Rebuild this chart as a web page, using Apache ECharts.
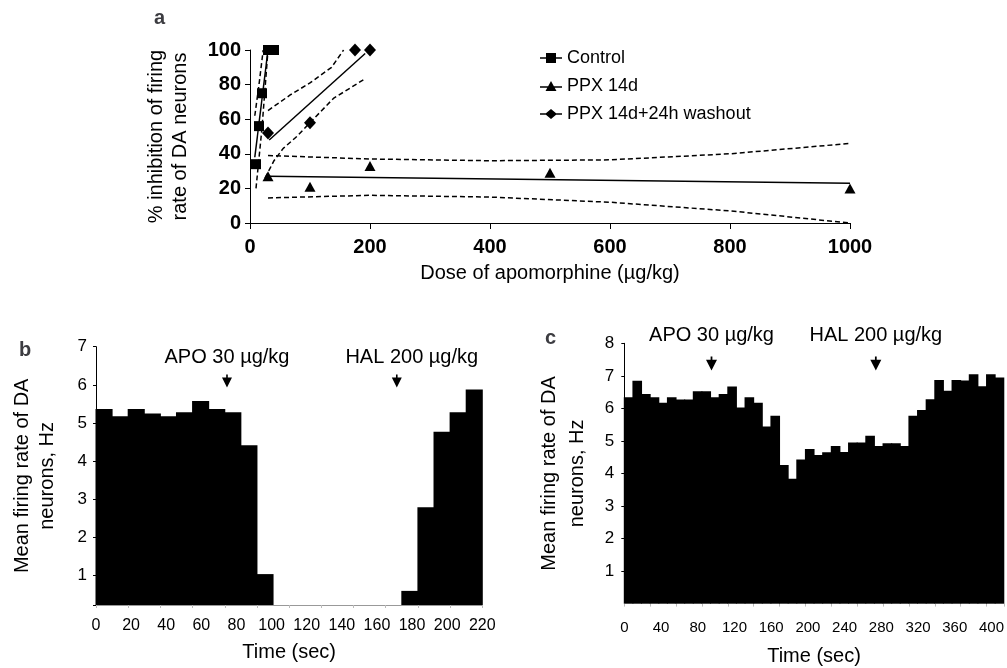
<!DOCTYPE html>
<html><head><meta charset="utf-8">
<script src="https://cdn.jsdelivr.net/npm/echarts@6/dist/echarts.min.js"></script>
<style>html,body{margin:0;padding:0;background:#fff}#c{width:1007px;height:668px}</style>
</head><body><div id="c"></div>
<script>
// ---------- Panel a ----------
const controlDose = [10, 15, 20, 30, 40];
const controlInhib = [34, 56, 75, 100, 100];
const ppxDose = [30, 100, 200, 500, 1000];
const ppxInhib = [27, 21, 33, 29, 20];
const washDose = [30, 100, 175, 200];
const washInhib = [52, 58, 100, 100];
// regression lines and confidence bands
const controlFit = [[8, 38], [30, 100]];
const controlUpper = [[8, 62], [15, 80], [22, 100]];
const controlLower = [[10, 20], [20, 55], [30, 100]];
const washFit = [[32, 48], [192, 98]];
const washUpper = [[30, 65], [67, 74], [100, 81], [136, 90], [156, 100]];
const washLower = [[25, 26], [40, 36], [55, 43], [78, 50], [100, 58], [139, 72], [190, 83]];
const ppxFit = [[30, 27], [1000, 23]];
const ppxUpper = [[30, 39], [200, 37], [400, 36], [600, 36.5], [800, 40], [1000, 46]];
const ppxLower = [[30, 14.5], [200, 16], [400, 15], [600, 12], [800, 7], [1000, 0]];
const legendNames = ['Control', 'PPX 14d', 'PPX 14d+24h washout'];

// ---------- Panel b ----------
const binsB = [5.37, 5.18, 5.37, 5.25, 5.18, 5.28, 5.58, 5.37, 5.28, 4.42, 1.04,
  null, null, null, null, null, null, null, null,
  0.6, 2.79, 4.77, 5.28, 5.88];
const yTicksB = [1, 2, 3, 4, 5, 6, 7];
const annotText = ['APO 30 µg/kg', 'HAL 200 µg/kg'];
const annotTimeB = [74.6, 171.3];

// ---------- Panel c ----------
const binsC = [6.34, 6.85, 6.44, 6.34, 6.17, 6.34, 6.27, 6.27, 6.53, 6.53,
  6.34, 6.44, 6.67, 6.03, 6.34, 6.17, 5.44, 5.77, 4.26, 3.84,
  4.43, 4.75, 4.57, 4.65, 4.84, 4.66, 4.95, 4.95, 5.16, 4.84,
  4.93, 4.93, 4.84, 5.77, 5.95, 6.28, 6.87, 6.54, 6.87, 6.86,
  7.05, 6.68, 7.05, 6.95];
const annotTimeC = [95, 274];

const FONT = 'Liberation Sans, Arial, sans-serif';
const arrowPath = 'path://M4.2,0 L5.8,0 L5.8,3 L10,3 L5,13 L0,3 L4.2,3 Z';

function lineSeries(data, dashed) {
  return {
    type: 'line', xAxisIndex: 0, yAxisIndex: 0, data: data,
    symbol: 'none', silent: true, z: 2,
    lineStyle: { color: '#000', width: 1.5, type: dashed ? [5, 3] : 'solid' }
  };
}
const solidBlack = { color: '#000', opacity: 1 };

// histogram bars drawn through the category axis scale, with a 1px overlap to avoid seams
function histItem(params, api) {
  const v = api.value(1);
  if (v === null || isNaN(v)) return null;
  const top = api.coord([api.value(0), v]);
  const bw = api.size([1, 0])[0];
  const cs = params.coordSys;
  const base = cs.y + cs.height;
  return {
    type: 'rect',
    shape: { x: top[0] - bw / 2 - 0.5, y: top[1], width: bw + 1, height: base - top[1] },
    style: { fill: '#000' }
  };
}

const chart = echarts.init(document.getElementById('c'), null, { renderer: 'canvas' });
chart.setOption({
  animation: false,
  backgroundColor: '#fff',
  textStyle: { fontFamily: FONT, color: '#000' },
  title: [
    { text: 'a', left: 149, top: 3, textStyle: { fontSize: 20, fontWeight: 'bold', fontFamily: FONT } },
    { text: 'b', left: 14, top: 335, textStyle: { fontSize: 20, fontWeight: 'bold', fontFamily: FONT } },
    { text: 'c', left: 540, top: 323, textStyle: { fontSize: 20, fontWeight: 'bold', fontFamily: FONT } }
  ],
  legend: {
    orient: 'vertical', left: 535, top: 44, itemWidth: 22, itemHeight: 10, itemGap: 10,
    textStyle: { fontSize: 18, color: '#000', fontFamily: FONT },
    data: [
      { name: legendNames[0], icon: 'path://M0,4.3 L22,4.3 L22,5.7 L0,5.7 Z M6,0 L16,0 L16,10 L6,10 Z' },
      { name: legendNames[1], icon: 'path://M0,5.3 L22,5.3 L22,6.7 L0,6.7 Z M11,0 L16.5,10 L5.5,10 Z' },
      { name: legendNames[2], icon: 'path://M0,4.3 L22,4.3 L22,5.7 L0,5.7 Z M11,0 L17,5 L11,10 L5,5 Z' }
    ]
  },
  grid: [
    { left: 250, top: 50, width: 600, height: 173 },
    { left: 96, top: 346.7, width: 386.3, height: 258.3 },
    { left: 624.3, top: 343.3, width: 380.7, height: 260.3 }
  ],
  xAxis: [
    { type: 'value', gridIndex: 0, min: 0, max: 1000, interval: 200, position: 'bottom',
      name: 'Dose of apomorphine (µg/kg)', nameLocation: 'middle', nameGap: 40,
      nameTextStyle: { fontSize: 20, color: '#000' },
      axisLine: { lineStyle: { color: '#000', width: 1 } },
      axisTick: { length: 6, lineStyle: { color: '#000' } },
      axisLabel: { fontSize: 20, fontWeight: 'bold', color: '#000', margin: 14, formatter: v => String(v) },
      splitLine: { show: false } },
    { type: 'category', gridIndex: 1, data: binsB.map((_, i) => String(i)), position: 'bottom',
      boundaryGap: true,
      axisLine: { lineStyle: { color: '#999', width: 1 } },
      axisTick: { show: true, length: 3, lineStyle: { color: '#bbb' } },
      axisLabel: { show: false }, splitLine: { show: false }, splitArea: { show: false } },
    { type: 'value', gridIndex: 1, min: 0, max: 220, interval: 20, position: 'bottom',
      name: 'Time (sec)', nameLocation: 'middle', nameGap: 37,
      nameTextStyle: { fontSize: 20, color: '#000' },
      axisLine: { show: false }, axisTick: { show: false },
      axisLabel: { fontSize: 16, color: '#000', margin: 13 },
      splitLine: { show: false } },
    { type: 'category', gridIndex: 2, data: binsC.map((_, i) => String(i)), position: 'bottom',
      boundaryGap: true,
      axisLine: { lineStyle: { color: '#999', width: 1 } },
      axisTick: { show: true, length: 3, lineStyle: { color: '#bbb' } },
      axisLabel: { show: false }, splitLine: { show: false }, splitArea: { show: false } },
    { type: 'value', gridIndex: 2, min: 0, max: 413.4, interval: 40, position: 'bottom',
      name: 'Time (sec)', nameLocation: 'middle', nameGap: 43,
      nameTextStyle: { fontSize: 20, color: '#000' },
      axisLine: { show: false }, axisTick: { show: false },
      axisLabel: { fontSize: 15, color: '#000', margin: 17, showMaxLabel: false },
      splitLine: { show: false } }
  ],
  yAxis: [
    { type: 'value', gridIndex: 0, min: 0, max: 100, interval: 20,
      name: '% inhibition of firing\nrate of DA neurons', nameLocation: 'middle', nameGap: 58,
      nameTextStyle: { fontSize: 20, color: '#000', lineHeight: 24 },
      axisLine: { show: true, lineStyle: { color: '#000', width: 1 } },
      axisTick: { show: true, length: 5, lineStyle: { color: '#000' } },
      axisLabel: { fontSize: 20, fontWeight: 'bold', color: '#000', margin: 9 },
      splitLine: { show: false } },
    { type: 'value', gridIndex: 1, min: 0.23, max: 7,
      name: 'Mean firing rate of DA\nneurons, Hz', nameLocation: 'middle', nameGap: 36,
      nameTextStyle: { fontSize: 20, color: '#000', lineHeight: 25 },
      axisLine: { show: true, lineStyle: { color: '#000', width: 1 } },
      axisTick: { show: true, length: 3, customValues: [0.23].concat(yTicksB), lineStyle: { color: '#000' } },
      axisLabel: { fontSize: 17, color: '#000', margin: 9, customValues: yTicksB },
      splitLine: { show: false } },
    { type: 'value', gridIndex: 2, min: 0, max: 8, interval: 1,
      name: 'Mean firing rate of DA\nneurons, Hz', nameLocation: 'middle', nameGap: 33,
      nameTextStyle: { fontSize: 20, color: '#000', lineHeight: 28 },
      axisLine: { show: true, lineStyle: { color: '#000', width: 1 } },
      axisTick: { show: true, length: 3, lineStyle: { color: '#000' } },
      axisLabel: { fontSize: 17, color: '#000', margin: 10, showMinLabel: false },
      splitLine: { show: false } }
  ],
  series: [
    lineSeries(controlFit, false), lineSeries(controlUpper, true), lineSeries(controlLower, true),
    lineSeries(washFit, false), lineSeries(washUpper, true), lineSeries(washLower, true),
    lineSeries(ppxFit, false), lineSeries(ppxUpper, true), lineSeries(ppxLower, true),
    { name: legendNames[0], type: 'scatter', xAxisIndex: 0, yAxisIndex: 0, z: 4,
      symbol: 'rect', symbolSize: 10, itemStyle: solidBlack,
      data: controlDose.map((d, i) => [d, controlInhib[i]]) },
    { name: legendNames[1], type: 'scatter', xAxisIndex: 0, yAxisIndex: 0, z: 4,
      symbol: 'triangle', symbolSize: [11, 10], itemStyle: solidBlack,
      data: ppxDose.map((d, i) => [d, ppxInhib[i]]) },
    { name: legendNames[2], type: 'scatter', xAxisIndex: 0, yAxisIndex: 0, z: 4,
      symbol: 'diamond', symbolSize: [12, 13], itemStyle: solidBlack,
      data: washDose.map((d, i) => [d, washInhib[i]]) },
    { type: 'custom', xAxisIndex: 1, yAxisIndex: 1, silent: true, renderItem: histItem,
      encode: { x: 0, y: 1 },
      data: binsB.map((v, i) => [i, v === null ? NaN : v]) },
    { type: 'scatter', xAxisIndex: 2, yAxisIndex: 1, symbol: arrowPath, symbolSize: [10, 13],
      silent: true, itemStyle: solidBlack, z: 5,
      label: { show: true, position: 'top', distance: 7, formatter: '{b}', fontSize: 20, color: '#000', opacity: 1 },
      data: annotTimeB.map((t, i) => ({ name: annotText[i], value: [t, 6.1],
        label: i === 1 ? { offset: [15, 0] } : {} })) },
    { type: 'custom', xAxisIndex: 3, yAxisIndex: 2, silent: true, renderItem: histItem,
      encode: { x: 0, y: 1 },
      data: binsC.map((v, i) => [i, v]) },
    { type: 'scatter', xAxisIndex: 4, yAxisIndex: 2, symbol: arrowPath, symbolSize: [11, 14],
      silent: true, itemStyle: solidBlack, z: 5,
      label: { show: true, position: 'top', distance: 11, formatter: '{b}', fontSize: 20, color: '#000', opacity: 1 },
      data: annotTimeC.map((t, i) => ({ name: annotText[i], value: [t, 7.38] })) }
  ]
});
</script>
</body></html>
